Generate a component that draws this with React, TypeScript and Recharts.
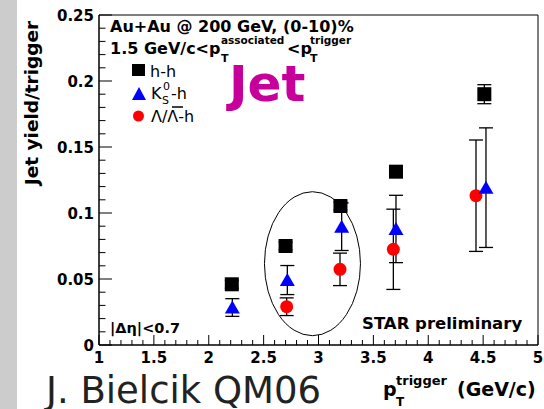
import React from 'react';
import { ScatterChart, Scatter, XAxis, YAxis, ErrorBar, ReferenceArea, ReferenceDot } from 'recharts';

// ---- data ----
const HH_X = [2.21, 2.7, 3.2, 3.706, 4.511];
const HH_Y = [0.046, 0.075, 0.1053, 0.1313, 0.19];
const HH_ERR = [0.003, 0.003, 0.003, 0.004, 0.0072];

const K0_X = [2.215, 2.716, 3.211, 3.706, 4.526];
const K0_Y = [0.0284, 0.0492, 0.0896, 0.0879, 0.1192];
const K0_ERR = [0.0067, 0.011, 0.018, 0.0255, 0.0453];

const LAM_X = [2.71, 3.196, 3.682, 4.435];
const LAM_Y = [0.029, 0.0573, 0.0725, 0.1131];
const LAM_ERR = [0.0067, 0.0123, 0.0304, 0.0422];

const SERIES_NAMES = ['h-h', 'K0S-h', 'Λ/Λ-h'];

// ---- axes ----
const X_TICKS = [1, 1.1, 1.2, 1.3, 1.4, 1.5, 1.6, 1.7, 1.8, 1.9, 2, 2.1, 2.2, 2.3, 2.4, 2.5, 2.6, 2.7, 2.8, 2.9, 3, 3.1, 3.2, 3.3, 3.4, 3.5, 3.6, 3.7, 3.8, 3.9, 4, 4.1, 4.2, 4.3, 4.4, 4.5, 4.6, 4.7, 4.8, 4.9, 5];
const X_MAJOR = [1, 1.5, 2, 2.5, 3, 3.5, 4, 4.5, 5];
const X_LABELS = ['1', '1.5', '2', '2.5', '3', '3.5', '4', '4.5', '5'];
const Y_TICKS = [0, 0.01, 0.02, 0.03, 0.04, 0.05, 0.06, 0.07, 0.08, 0.09, 0.1, 0.11, 0.12, 0.13, 0.14, 0.15, 0.16, 0.17, 0.18, 0.19, 0.2, 0.21, 0.22, 0.23, 0.24, 0.25];
const Y_MAJOR = [0, 0.05, 0.1, 0.15, 0.2, 0.25];
const Y_LABELS = ['0', '0.05', '0.1', '0.15', '0.2', '0.25'];

const ELLIPSE_CENTER = { x: 2.945, y: 0.0616 };

const toPoints = (xs: number[], ys: number[], es: number[]) => xs.map((x, i) => ({ x, y: ys[i], err: es[i] }));
const hhData = toPoints(HH_X, HH_Y, HH_ERR);
const k0Data = toPoints(K0_X, K0_Y, K0_ERR);
const lamData = toPoints(LAM_X, LAM_Y, LAM_ERR);

const FONT = '"DejaVu Sans", sans-serif';

const majorIndex = (arr: number[], v: number) => arr.findIndex((m) => Math.abs(m - v) < 1e-9);

const XTick = (props: any) => {
  const { x, y, payload } = props;
  const idx = majorIndex(X_MAJOR, payload.value);
  const major = idx >= 0;
  return (
    <g>
      <line x1={x} x2={x} y1={y} y2={y - (major ? 10 : 5)} stroke="#000" strokeWidth={1} />
      {major && (
        <text x={x} y={y + 18} textAnchor="middle" fontFamily={FONT} fontWeight="bold" fontSize={15} fill="#000">
          {X_LABELS[idx]}
        </text>
      )}
    </g>
  );
};

const YTick = (props: any) => {
  const { x, y, payload } = props;
  const idx = majorIndex(Y_MAJOR, payload.value);
  const major = idx >= 0;
  return (
    <g>
      <line x1={x} x2={x + (major ? 13 : 6.5)} y1={y} y2={y} stroke="#000" strokeWidth={1} />
      {major && (
        <text x={x - 5} y={y + 5.5} textAnchor="end" fontFamily={FONT} fontWeight="bold" fontSize={15} fill="#000">
          {Y_LABELS[idx]}
        </text>
      )}
    </g>
  );
};

const SquareShape = (p: any) => <rect x={p.cx - 7} y={p.cy - 7} width={14} height={14} fill="#000" />;
const TriangleShape = (p: any) => (
  <polygon points={`${p.cx},${p.cy - 7} ${p.cx - 7.5},${p.cy + 6} ${p.cx + 7.5},${p.cy + 6}`} fill="#0000ff" />
);
const CircleShape = (p: any) => <circle cx={p.cx} cy={p.cy} r={6.5} fill="#ff0000" />;
const EllipseShape = (p: any) => <ellipse cx={p.cx} cy={p.cy} rx={48} ry={72} fill="none" stroke="#000" strokeWidth={1} />;

export default function App() {
  const bold = { fontFamily: FONT, fontWeight: 'bold' as const, fill: '#000' };
  return (
    <div style={{ position: 'absolute', left: 0, top: 0, width: 544, height: 409, background: '#fff', overflow: 'hidden' }}>
      <div style={{ position: 'absolute', left: 0, top: 0, width: 17, height: 409, background: '#cccccc' }} />
      <div style={{ position: 'absolute', left: 0, top: 0 }}>
        <ScatterChart width={544} height={409} margin={{ top: 15, right: 6, bottom: 34, left: 39 }}>
          <XAxis
            dataKey="x"
            type="number"
            domain={[1, 5]}
            ticks={X_TICKS}
            interval={0}
            tickSize={0}
            tickMargin={0}
            tick={<XTick />}
            axisLine={{ stroke: '#000' }}
            tickLine={false}
            height={30}
            allowDataOverflow
          />
          <YAxis
            dataKey="y"
            type="number"
            domain={[0, 0.25]}
            ticks={Y_TICKS}
            interval={0}
            tickSize={0}
            tickMargin={0}
            tick={<YTick />}
            axisLine={{ stroke: '#000' }}
            tickLine={false}
            width={60}
            allowDataOverflow
          />
          <ReferenceArea x1={1} x2={5} y1={0} y2={0.25} fill="none" stroke="#000" strokeWidth={1} ifOverflow="visible" />
          <ReferenceDot x={ELLIPSE_CENTER.x} y={ELLIPSE_CENTER.y} shape={EllipseShape} ifOverflow="visible" />
          <Scatter name={SERIES_NAMES[2]} data={lamData} shape={CircleShape} isAnimationActive={false}>
            <ErrorBar dataKey="err" direction="y" width={7} stroke="#000" strokeWidth={1.3} isAnimationActive={false} />
          </Scatter>
          <Scatter name={SERIES_NAMES[1]} data={k0Data} shape={TriangleShape} isAnimationActive={false}>
            <ErrorBar dataKey="err" direction="y" width={7} stroke="#000" strokeWidth={1.3} isAnimationActive={false} />
          </Scatter>
          <Scatter name={SERIES_NAMES[0]} data={hhData} shape={SquareShape} isAnimationActive={false}>
            <ErrorBar dataKey="err" direction="y" width={7} stroke="#000" strokeWidth={1.3} isAnimationActive={false} />
          </Scatter>
        </ScatterChart>
      </div>
      <svg width={544} height={409} style={{ position: 'absolute', left: 0, top: 0, pointerEvents: 'none' }}>
        {/* header (one text element with positioned spans) */}
        <text fontSize={16} {...bold}>
          <tspan x={110} y={32}>Au+Au @ 200 GeV, (0-10)%</tspan>
          <tspan x={110} y={54}>1.5 GeV/c&lt;p</tspan>
          <tspan x={221} y={44} fontSize={10.5}>associated</tspan>
          <tspan x={221} y={62} fontSize={11}>T</tspan>
          <tspan x={287} y={54}>&lt;p</tspan>
          <tspan x={310} y={44} fontSize={10.5}>trigger</tspan>
          <tspan x={310} y={62} fontSize={11}>T</tspan>
        </text>

        {/* legend */}
        <rect x={132} y={64} width={13} height={12} fill="#000" />
        <text x={150} y={77} fontFamily={FONT} fontSize={16} fill="#000">h-h</text>
        <polygon points="139,87 132,100 146,100" fill="#0000ff" />
        <text fontFamily={FONT} fontSize={16} fill="#000">
          <tspan x={151} y={99}>K</tspan>
          <tspan x={163} y={90} fontSize={11}>0</tspan>
          <tspan x={162} y={104} fontSize={11}>S</tspan>
          <tspan x={171} y={99}>-h</tspan>
        </text>
        <circle cx={138.5} cy={116} r={5.5} fill="#ff0000" />
        <text x={151} y={122} fontFamily={FONT} fontSize={16} fill="#000">Λ/Λ-h</text>
        <line x1={172} x2={183} y1={107} y2={107} stroke="#000" strokeWidth={1.5} />

        {/* Jet */}
        <text x={229} y={101} fontFamily={FONT} fontWeight="bold" fontSize={50} fill="#c8009b">Jet</text>

        {/* bottom annotations */}
        <text x={110} y={333} fontSize={14.5} {...bold}>|Δη|&lt;0.7</text>
        <text x={362} y={329} fontSize={16.5} {...bold}>STAR preliminary</text>

        {/* axis titles */}
        <text transform="translate(38,103) rotate(-90)" textAnchor="middle" fontSize={18.5} {...bold}>Jet yield/trigger</text>
        <text fontSize={19} {...bold}>
          <tspan x={383} y={396}>p</tspan>
          <tspan x={396} y={385} fontSize={13}>trigger</tspan>
          <tspan x={396} y={406} fontSize={12}>T</tspan>
          <tspan x={457} y={396}>(GeV/c)</tspan>
        </text>

        {/* credit */}
        <text x={46} y={403} fontFamily={FONT} fontSize={37} fill="#222">J. Bielcik QM06</text>
      </svg>
    </div>
  );
}
